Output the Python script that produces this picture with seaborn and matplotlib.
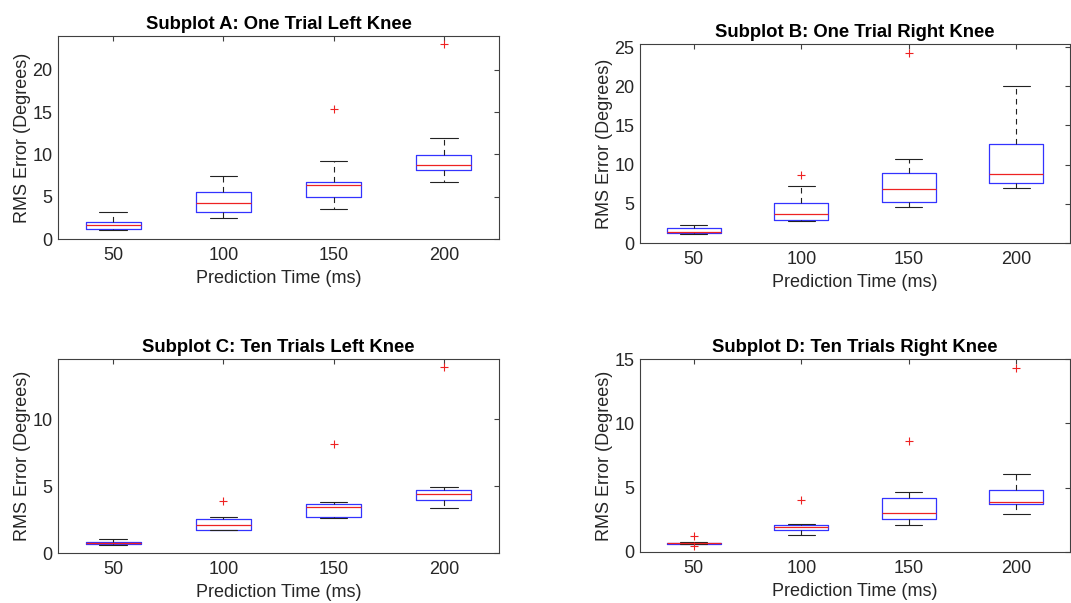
import numpy as np
import pandas as pd
import matplotlib
matplotlib.use("Agg")
import matplotlib.pyplot as plt
import seaborn as sns

# ---------------- data (RMS error in degrees per prediction time) ----------------
times = ["50", "100", "150", "200"]

# Subplot A: One Trial Left Knee
a_50 = [1.03, 1.12, 1.19, 1.45, 1.71, 1.90, 2.06, 2.60, 3.17]
a_100 = [2.46, 2.90, 3.17, 3.80, 4.29, 5.00, 5.60, 6.60, 7.50]
a_150 = [3.57, 4.50, 4.96, 5.80, 6.35, 6.60, 6.75, 9.25, 15.36]
a_200 = [6.71, 7.90, 8.17, 8.50, 8.73, 9.40, 9.96, 11.90, 23.00]

# Subplot B: One Trial Right Knee
b_50 = [1.19, 1.25, 1.32, 1.36, 1.40, 1.60, 1.87, 2.10, 2.34]
b_100 = [2.76, 2.85, 2.89, 3.30, 3.70, 4.40, 5.14, 7.23, 8.67]
b_150 = [4.59, 5.00, 5.19, 6.00, 6.93, 7.90, 8.89, 10.76, 24.23]
b_200 = [7.02, 7.30, 7.61, 8.20, 8.80, 10.50, 12.63, 16.00, 20.07]

# Subplot C: Ten Trials Left Knee
c_50 = [0.60, 0.62, 0.65, 0.70, 0.73, 0.78, 0.83, 0.95, 1.05]
c_100 = [1.70, 1.72, 1.75, 1.95, 2.13, 2.35, 2.55, 2.68, 3.85]
c_150 = [2.63, 2.65, 2.68, 3.10, 3.45, 3.60, 3.68, 3.80, 8.13]
c_200 = [3.40, 3.80, 3.95, 4.20, 4.40, 4.60, 4.73, 4.93, 13.88]

# Subplot D: Ten Trials Right Knee
d_50 = [0.50, 0.60, 0.65, 0.66, 0.68, 0.70, 0.72, 0.75, 1.27]
d_100 = [1.32, 1.60, 1.74, 1.85, 1.92, 2.00, 2.13, 2.15, 4.04]
d_150 = [2.08, 2.40, 2.60, 2.80, 3.06, 3.80, 4.22, 4.66, 8.60]
d_200 = [2.93, 3.50, 3.70, 3.78, 3.85, 4.30, 4.84, 6.09, 14.30]

titles = ["Subplot A: One Trial Left Knee", "Subplot B: One Trial Right Knee",
          "Subplot C: Ten Trials Left Knee", "Subplot D: Ten Trials Right Knee"]
groups = [[a_50, a_100, a_150, a_200], [b_50, b_100, b_150, b_200],
          [c_50, c_100, c_150, c_200], [d_50, d_100, d_150, d_200]]
ylims = [(0, 24), (0, 25.4), (0, 14.5), (0, 15)]
yticks = [[0, 5, 10, 15, 20], [0, 5, 10, 15, 20, 25], [0, 5, 10], [0, 5, 10, 15]]

xlabel = "Prediction Time (ms)"
ylabel = "RMS Error (Degrees)"

# ---------------- styling ----------------
sns.set_theme(style="white")
plt.rcParams["font.family"] = ["Liberation Sans", "DejaVu Sans"]
plt.rcParams["xtick.direction"] = "in"
plt.rcParams["ytick.direction"] = "in"

W, H = 1071, 603
fig = plt.figure(figsize=(W / 100, H / 100), dpi=100)

# axes boxes in pixels: left, right, top, bottom
boxes = [(58, 499, 36, 239), (640, 1070, 44, 243),
         (58, 499, 359, 553), (640, 1070, 359, 552)]

gray = "#262626"
for i in range(4):
    l, r, t, b = boxes[i]
    ax = fig.add_axes([l / W, (H - b) / H, (r - l) / W, (b - t) / H])
    rows = []
    for tm, vals in zip(times, groups[i]):
        for v in vals:
            rows.append({"time": tm, "rms": v})
    df = pd.DataFrame(rows)
    sns.boxplot(data=df, x="time", y="rms", order=times, ax=ax, fill=False,
                width=0.5, whis=1.5, linewidth=0.8, color="#2a2aff",
                boxprops={"color": "#3333ff", "linewidth": 0.9},
                medianprops={"color": "#ee2222", "linewidth": 0.9},
                whiskerprops={"color": "#222222", "linestyle": (0, (5, 4)), "linewidth": 0.8},
                capprops={"color": "#222222", "linewidth": 0.8},
                flierprops={"marker": "+", "markeredgecolor": "#ee2222",
                            "markerfacecolor": "none", "markersize": 6,
                            "markeredgewidth": 0.8})
    ax.set_xlim(-0.5, 3.5)
    ax.set_ylim(*ylims[i])
    ax.set_yticks(yticks[i])
    ax.set_xticks(range(4))
    ax.set_xticklabels(times)
    for s in ax.spines.values():
        s.set_visible(True)
        s.set_color("#404040")
        s.set_linewidth(0.8)
    ax.tick_params(axis="both", which="both", direction="in", length=3.5,
                   width=0.8, colors="#404040", labelsize=13, top=True, right=True,
                   labelcolor=gray)
    ax.tick_params(axis="x", pad=6)
    ax.tick_params(axis="y", pad=4)
    ax.set_xlabel(xlabel, fontsize=13, color=gray, labelpad=4)
    ax.set_ylabel(ylabel, fontsize=13, color=gray, labelpad=1)
    ax.set_title(titles[i], fontsize=13.3, fontweight="bold", color="black", pad=5)

fig.savefig("out.png", dpi=100, facecolor="white")
